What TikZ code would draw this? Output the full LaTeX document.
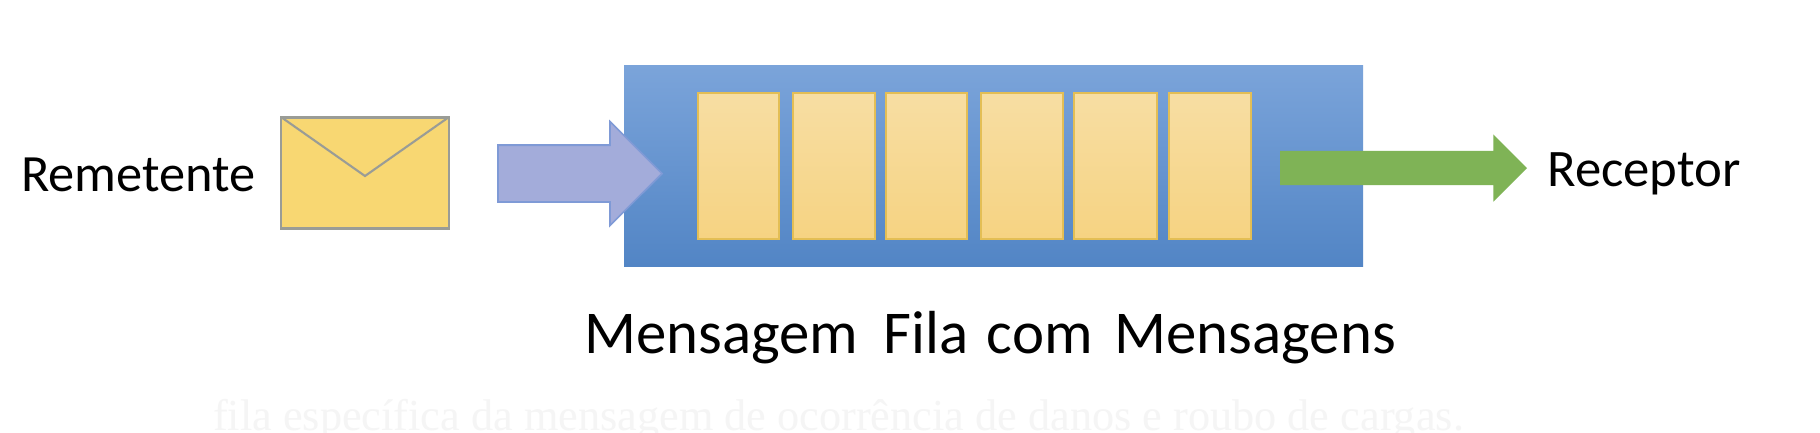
\documentclass[tikz,border=0pt]{standalone}
\usepackage{fontspec}
\setmainfont{Carlito}
\newfontfamily\ghostfont{Liberation Serif}
\usepackage{xcolor}
\usetikzlibrary{shapes.arrows}
\definecolor{boxtop}{HTML}{7BA4DA}
\definecolor{boxbottom}{HTML}{5285C5}
\definecolor{slottop}{HTML}{F7DEA3}
\definecolor{slotbottom}{HTML}{F6D382}
\definecolor{slotedge}{HTML}{E3BE55}
\definecolor{envfill}{HTML}{F8D772}
\definecolor{envedge}{HTML}{9A9C96}
\definecolor{sendfill}{HTML}{A3ACDA}
\definecolor{sendedge}{HTML}{7F9AD6}
\definecolor{recvfill}{HTML}{7FB356}
\definecolor{ghost}{HTML}{F5F5F5}
\tikzset{
  queuebox/.style={top color=boxtop,bottom color=boxbottom,draw=none},
  slotbox/.style={top color=slottop,bottom color=slotbottom,draw=slotedge,line width=0.6pt},
  envbox/.style={fill=envfill,draw=envedge,line width=0.85pt},
  blockarrow/.style={single arrow,single arrow head indent=0pt,outer sep=0pt,anchor=tip},
  label/.style={anchor=base,text=black,inner sep=0pt}
}
\begin{document}
\begin{tikzpicture}
\clip (0,0) rectangle (18.2,4.32);
\fill[white] (0,0) rectangle (18.2,4.32);

\draw[queuebox] (6.24,3.67) rectangle (13.63,1.66);
\draw[slotbox] (6.98,3.39) rectangle (7.79,1.93);
\draw[slotbox] (7.93,3.39) rectangle (8.75,1.93);
\draw[slotbox] (8.86,3.39) rectangle (9.67,1.93);
\draw[slotbox] (9.81,3.39) rectangle (10.63,1.93);
\draw[slotbox] (10.74,3.39) rectangle (11.57,1.93);
\draw[slotbox] (11.69,3.39) rectangle (12.51,1.93);

\draw[envbox] (2.81,3.15) rectangle (4.49,2.04);
\draw[envedge,line width=0.6pt] (2.81,3.15) -- (3.65,2.56) -- (4.49,3.15);

\node[blockarrow,fill=sendfill,draw=sendedge,line width=0.5pt,inner sep=0.275cm,
  minimum height=1.64cm,single arrow head extend=0.235cm] (sendarrow) at (6.62,2.585) {};
\node[blockarrow,fill=recvfill,inner sep=0.165cm,
  minimum height=2.47cm,single arrow head extend=0.165cm] (recvarrow) at (15.27,2.64) {};

\node[label,font=\fontsize{14.9}{18}\selectfont] (sender) at (1.385,2.41) {Remetente};
\node[label,font=\fontsize{15}{18}\selectfont] (receiver) at (16.44,2.46) {Receptor};
\node[label,font=\fontsize{17.3}{20}\selectfont] (caption) at (9.90,0.79) {Mensagem\hspace{0.42em}Fila\hspace{0.3em}com\hspace{0.36em}Mensagens};
\node[label,text=ghost,font=\ghostfont\fontsize{12.6}{15}\selectfont] (ghostline) at (8.385,0.02) {fila específica da mensagem de ocorrência de danos e roubo de cargas.};
\end{tikzpicture}
\end{document}
